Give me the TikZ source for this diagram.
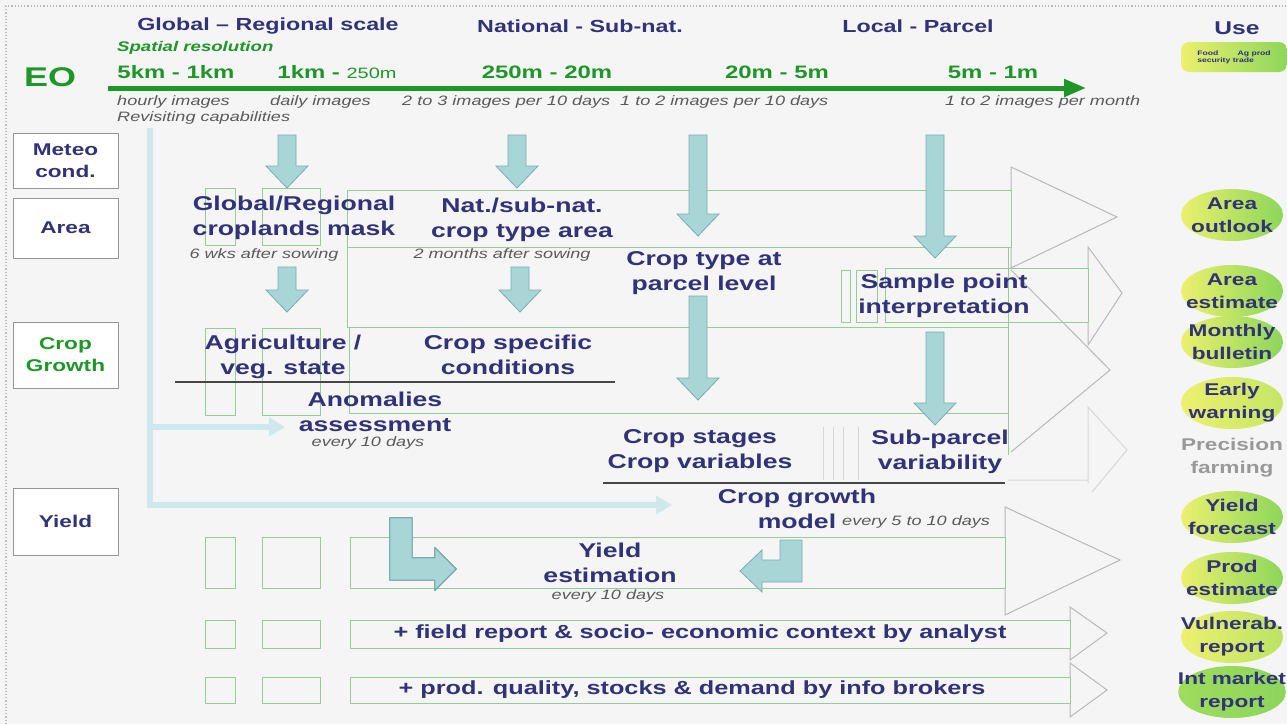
\documentclass[tikz,border=0pt]{standalone}
\usepackage{fontspec}
\setmainfont{Liberation Sans}[FakeStretch=1.33]
\usetikzlibrary{arrows.meta,shapes.geometric}

\definecolor{navy}{RGB}{50,50,120}
\definecolor{itgray}{RGB}{90,90,90}
\definecolor{eogreen}{RGB}{30,150,40}
\definecolor{bandgreen}{RGB}{150,205,150}
\definecolor{tipgray}{RGB}{185,185,185}
\definecolor{faintgray}{RGB}{215,215,215}
\definecolor{rulegray}{RGB}{70,70,70}
\definecolor{cyanfill}{RGB}{168,214,214}
\definecolor{cyandraw}{RGB}{120,172,178}
\definecolor{palecyan}{RGB}{205,233,236}
\definecolor{boxgray}{RGB}{150,150,150}
\definecolor{bg}{RGB}{245,245,245}
\definecolor{useY}{RGB}{236,240,110}
\definecolor{useG}{RGB}{140,214,90}

\newcommand{\fsz}[2]{\fontsize{#1}{#2}\selectfont}
% down block arrow: x, top, tip
\newcommand{\cyandn}[3]{\filldraw[cyanarr] (#1-9,#2) -- (#1+9,#2) -- (#1+9,#3-22)
  -- (#1+21,#3-22) -- (#1,#3) -- (#1-21,#3-22) -- (#1-9,#3-22) -- cycle;}

\begin{document}
\begin{tikzpicture}[x=1pt,y=-1pt,
  lbl/.style={font=\fsz{20}{25}\bfseries, text=navy, align=center, inner sep=0},
  note/.style={font=\fsz{13.6}{15}\itshape, text=itgray, inner sep=0},
  res/.style={font=\fsz{18}{20}\bfseries, text=eogreen, inner sep=0},
  scale head/.style={font=\fsz{17.5}{20}\bfseries, text=navy, inner sep=0},
  catbox/.style={draw=boxgray, fill=white, line width=1pt, minimum width=105,
    font=\fsz{17}{22}\bfseries, text=navy, align=center},
  use/.style={ellipse, minimum width=102, minimum height=52, left color=useY,
    right color=useG, font=\fsz{17}{23}\bfseries, text=navy, align=center,
    inner xsep=-16pt, inner ysep=-10pt},
  band/.style={draw=bandgreen, line width=0.8pt},
  tip/.style={draw=tipgray, line width=1pt},
  cyanarr/.style={fill=cyanfill, draw=cyandraw, line width=0.8pt},
  pale/.style={draw=palecyan, line width=6pt, -{Triangle[length=16pt,width=18pt]}},
  rule/.style={draw=rulegray, line width=2.5pt}]
\useasboundingbox (0,0) rectangle (1287,724);
\fill[bg] (0,0) rectangle (1287,724);
\draw[dotted, draw=tipgray, line width=1.2pt] (5,6) -- (1287,6) (6,6) -- (6,724);

% bands and heads
\draw[band] (347,190) rectangle (1011,247);
\draw[tip] (1011,190) -- (1011,167) -- (1117,217) -- (1011,268) -- (1011,247);
\draw[band] (347,247) rectangle (1008,327);
\draw[band] (885,268) rectangle (1088,322);
\draw[tip] (1088,268) -- (1088,247) -- (1122,293) -- (1088,345) -- (1088,322);
\draw[band] (349,327) rectangle (1008,413);
\draw[tip] (1011,270) -- (1110,370) -- (1011,452);
\draw[band] (1008,413) -- (1008,455);
\draw[draw=faintgray, line width=1pt] (1008,480) -- (1088,480) (1088,483) -- (1088,407) -- (1127,450) -- (1092,492);
\draw[band] (350,537) rectangle (1005,588);
\draw[tip] (1005,537) -- (1005,507) -- (1120,560) -- (1005,615) -- (1005,588);
\draw[band] (350,620) rectangle (1070,648);
\draw[tip] (1070,620) -- (1070,607) -- (1107,633) -- (1070,660) -- (1070,648);
\draw[band] (350,677) rectangle (1070,703);
\draw[tip] (1070,677) -- (1070,663) -- (1107,690) -- (1070,717) -- (1070,703);
\foreach \ya/\yb in {188/245, 328/415, 537/588, 620/648, 677/703} {
  \draw[band] (205,\ya) rectangle (235,\yb);
  \draw[band] (262,\ya) rectangle (320,\yb);
}
\draw[band] (841,270) rectangle (850,322) (856,270) rectangle (877,322);
\foreach \x in {823,833,843,858} \draw[draw=faintgray] (\x,427) -- (\x,480);

\draw[rule] (175,382) -- (615,382);
\draw[rule] (603,483) -- (1005,483);

% feed lines
\coordinate (fTop) at (150,128);
\coordinate (fCorner) at (150,505);
\coordinate (fEnd) at (672,505);
\coordinate (fMid) at (150,427);
\coordinate (fMidEnd) at (285,427);
\draw[pale] (fTop) -- (fCorner) -- (fEnd);
\draw[pale] (fMid) -- (fMidEnd);

\foreach \x/\ya/\yb in {287/135/188, 517/135/188, 698/135/236, 935/135/258,
  287/267/312, 520/267/312, 698/296/400, 935/332/425}
  \cyandn{\x}{\ya}{\yb}
\filldraw[cyanarr] (390,518) -- (412,518) -- (412,558) -- (435,558) -- (435,548)
  -- (456,569) -- (435,590) -- (435,580) -- (390,580) -- cycle;
\filldraw[cyanarr] (802,540) -- (780,540) -- (780,560) -- (762,560) -- (762,550)
  -- (740,571) -- (762,592) -- (762,582) -- (802,582) -- cycle;

% EO axis
\coordinate (eoL) at (108,88);
\coordinate (eoR) at (1086,88);
\draw[draw=eogreen, line width=5pt, -{Triangle[length=22pt,width=17pt]}] (eoL) -- (eoR);

\node[scale head] (hGlob) at (268,26) {Global -- Regional scale};
\node[scale head] (hNat) at (580,26) {National - Sub-nat.};
\node[scale head] (hLoc) at (918,26) {Local - Parcel};
\node[scale head, font=\fsz{18.5}{20}\bfseries] (hUse) at (1237,28) {Use};
\node[note, anchor=west, text=eogreen, font=\fsz{14}{15}\bfseries\itshape] (spat) at (117,48) {Spatial resolution};
\node[res, font=\fsz{27}{30}\bfseries] (eo) at (50,77) {EO};
\node[res] (r1) at (176,72) {5km - 1km};
\node[res] (r2) at (337,72) {1km - {\mdseries\fsz{15}{18}250m}};
\node[res] (r3) at (547,72) {250m - 20m};
\node[res] (r4) at (777,72) {20m - 5m};
\node[res] (r5) at (993,72) {5m - 1m};
\node[note, anchor=west] (f1) at (117,102) {hourly images};
\node[note, anchor=west] (f2) at (270,102) {daily images};
\node[note, anchor=west] (f3) at (402,102) {2 to 3 images per 10 days};
\node[note, anchor=west] (f4) at (620,102) {1 to 2 images per 10 days};
\node[note, anchor=west] (f5) at (945,102) {1 to 2 images per month};
\node[note, anchor=west] (revis) at (117,118) {Revisiting capabilities};

\node[use, ellipse=false, rectangle, rounded corners=8pt, minimum width=106, minimum height=30,
  inner sep=2pt, font=\fsz{6.5}{7}\bfseries, align=left] (use0) at (1234,57)
  {Food\phantom{xxxx}Ag prod\\security trade};

% categories
\node[catbox, minimum height=55] (meteo) at (65.5,160.5) {Meteo\\cond.};
\node[catbox, minimum height=60] (area) at (65.5,228) {Area};
\node[catbox, minimum height=66, text=eogreen] (growth) at (65.5,355) {Crop\\Growth};
\node[catbox, minimum height=67] (yield) at (65.5,521.5) {Yield};

% products
\node[lbl] (mask) at (294,218) {Global/Regional\\croplands mask};
\node[note] (wks) at (264,255) {6 wks after sowing};
\node[lbl] (ctype) at (522,220) {Nat./sub-nat.\\crop type area};
\node[note] (months) at (502,255) {2 months after sowing};
\node[lbl] (parcel) at (704,273) {Crop type at\\parcel level};
\node[lbl] (sample) at (944,296) {Sample point\\interpretation};
\node[lbl] (agri) at (283,357) {Agriculture /\\veg. state};
\node[lbl] (cspec) at (508,355) {Crop specific\\conditions};
\node[lbl] (anom) at (375,412) {Anomalies\\assessment};
\node[note] (anomfreq) at (368,443) {every 10 days};
\node[lbl] (stages) at (700,451) {Crop stages\\Crop variables};
\node[lbl] (subp) at (940,452) {Sub-parcel\\variability};
\node[lbl] (cgm) at (797,509) {Crop growth\\model};
\node[note, anchor=west] (cgmfreq) at (842,522) {every 5 to 10 days};
\node[lbl] (yest) at (610,563) {Yield\\estimation};
\node[note] (yestfreq) at (608,596) {every 10 days};
\node[lbl, font=\fsz{19}{24}\bfseries] (field) at (700,634) {+ field report \& socio- economic context by analyst};
\node[lbl, font=\fsz{19}{24}\bfseries] (brok) at (692,690) {+ prod. quality, stocks \& demand by info brokers};

% uses
\node[use] (uAo) at (1232,215) {Area\\outlook};
\node[use] (uAe) at (1232,291) {Area\\estimate};
\node[use] (uMb) at (1232,342) {Monthly\\bulletin};
\node[use, right color=useY!60!useG] (uEw) at (1232,403) {Early\\warning};
\node[lbl, font=\fsz{17}{23}\bfseries, text=black!40] (uPf) at (1232,458) {Precision\\farming};
\node[use] (uYf) at (1232,517) {Yield\\forecast};
\node[use] (uPe) at (1232,578) {Prod\\estimate};
\node[use, right color=useY!50!useG] (uVr) at (1232,637) {Vulnerab.\\report};
\node[use, left color=useG!80!useY, right color=useG] (uIm) at (1232,692) {Int market\\report};
\end{tikzpicture}
\end{document}
